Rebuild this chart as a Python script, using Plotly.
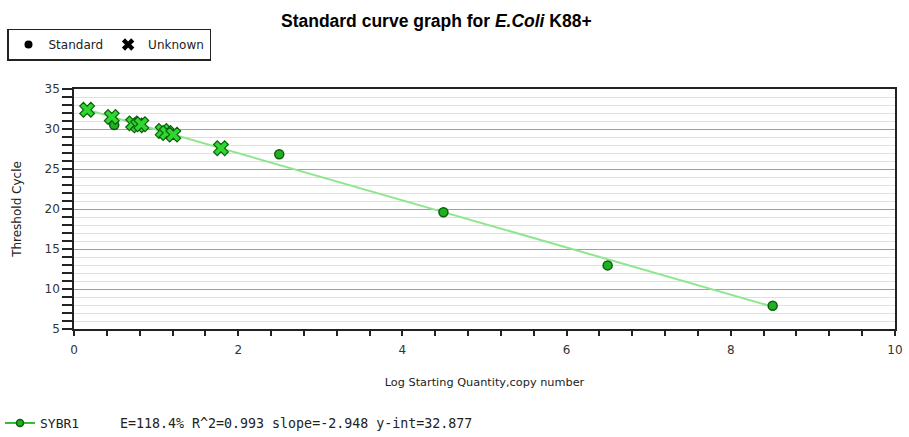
import plotly.graph_objects as go

# Data
std_x = [0.49, 2.50, 4.50, 6.50, 8.51]
std_y = [30.5, 26.85, 19.6, 12.95, 7.9]

unk_x = [0.16, 0.46, 0.72, 0.78, 0.82, 1.08, 1.13, 1.21, 1.79]
unk_y = [32.4, 31.5, 30.7, 30.45, 30.6, 29.75, 29.5, 29.3, 27.6]

slope = -2.948
y_int = 32.877
stats_text = "E=118.4% R^2=0.993 slope=-2.948 y-int=32.877"
series_name = "SYBR1"

x_ticks = [0, 2, 4, 6, 8, 10]
y_ticks = [5, 10, 15, 20, 25, 30, 35]

all_x = std_x + unk_x
line_x = [min(all_x), max(all_x)]
line_y = [slope * v + y_int for v in line_x]

LINE_GREEN = "#8ee68e"
FILL_GREEN = "#2fd62f"
DARK_GREEN = "#0b5e0b"

fig = go.Figure()

fig.add_trace(go.Scatter(x=line_x, y=line_y, mode="lines",
                         line=dict(color=LINE_GREEN, width=2),
                         showlegend=False, hoverinfo="skip"))
fig.add_trace(go.Scatter(x=std_x, y=std_y, mode="markers",
                         marker=dict(symbol="circle", size=9, color="#22b022",
                                     line=dict(color=DARK_GREEN, width=1.5)),
                         showlegend=False))
fig.add_trace(go.Scatter(x=unk_x, y=unk_y, mode="markers",
                         marker=dict(symbol="x", size=13, color=FILL_GREEN,
                                     line=dict(color=DARK_GREEN, width=1.2)),
                         showlegend=False))

fig.add_trace(go.Scatter(x=[None], y=[None], mode="markers", name="Standard",
                         marker=dict(symbol="circle", size=8, color="black"),
                         legend="legend"))
fig.add_trace(go.Scatter(x=[None], y=[None], mode="markers", name="Unknown",
                         marker=dict(symbol="x", size=11, color="black"),
                         legend="legend"))
fig.add_trace(go.Scatter(x=[None], y=[None], mode="lines+markers", name=series_name,
                         line=dict(color="#33b833", width=2),
                         marker=dict(symbol="circle", size=7, color="#22b022",
                                     line=dict(color=DARK_GREEN, width=1.5)),
                         legend="legend2"))

fig.update_layout(
    width=909, height=437,
    margin=dict(l=74, r=14, t=89, b=108, autoexpand=False),
    paper_bgcolor="white", plot_bgcolor="white",
    font=dict(family="DejaVu Sans", size=12, color="#333333"),
    title=dict(text="Standard curve graph for <i>E.Coli</i> K88+",
               font=dict(family="Liberation Sans", size=17.5, color="black", weight="bold"),
               x=0.48, xanchor="center", y=0.953, yanchor="middle"),
    legend=dict(orientation="h", xref="container", yref="container",
                x=7 / 909, xanchor="left", y=1 - 44.5 / 437, yanchor="middle",
                bordercolor="#222222", borderwidth=1.5, bgcolor="white",
                font=dict(family="DejaVu Sans", size=12, color="#222222"),
                itemwidth=30, tracegroupgap=0),
    legend2=dict(orientation="h", xref="container", yref="container",
                 x=0, xanchor="left", y=1 - 423 / 437, yanchor="middle",
                 borderwidth=0, bgcolor="rgba(0,0,0,0)",
                 font=dict(family="DejaVu Sans Mono", size=13, color="#222222"),
                 itemwidth=30),
    xaxis=dict(range=[0, 10], tickvals=x_ticks, ticks="outside", ticklen=5,
               tickcolor="#222222", tickwidth=1.5,
               showline=True, linecolor="#222222", linewidth=1.5, mirror=True,
               showgrid=False, zeroline=False, ticklabelstandoff=4,
               minor=dict(dtick=0.4, ticks="outside", ticklen=5, tickcolor="#222222",
                          showgrid=False),
               title=dict(text="Log Starting Quantity,copy number", standoff=22,
                          font=dict(size=11.3, color="#222222")),
               tickfont=dict(size=12, color="#333333")),
    yaxis=dict(range=[5, 35], tickvals=y_ticks, ticks="outside", ticklen=10,
               tickcolor="#222222", tickwidth=1.5,
               showline=True, linecolor="#222222", linewidth=1.5, mirror=True,
               showgrid=True, gridcolor="#a0a0a0", gridwidth=1.2, zeroline=False,
               minor=dict(dtick=1, ticks="outside", ticklen=10, tickcolor="#222222",
                          showgrid=True, gridcolor="#e0e0e0", gridwidth=1),
               title=dict(text="Threshold Cycle", standoff=20,
                          font=dict(size=12, color="#222222")),
               tickfont=dict(size=12, color="#333333")),
)

fig.add_annotation(text=stats_text, xref="paper", yref="paper",
                   x=(118 - 74) / 821, xanchor="left", y=-(423 - 329) / 240, yanchor="middle",
                   showarrow=False,
                   font=dict(family="DejaVu Sans Mono", size=13.3, color="#222222"))

fig.write_html("out.html")
